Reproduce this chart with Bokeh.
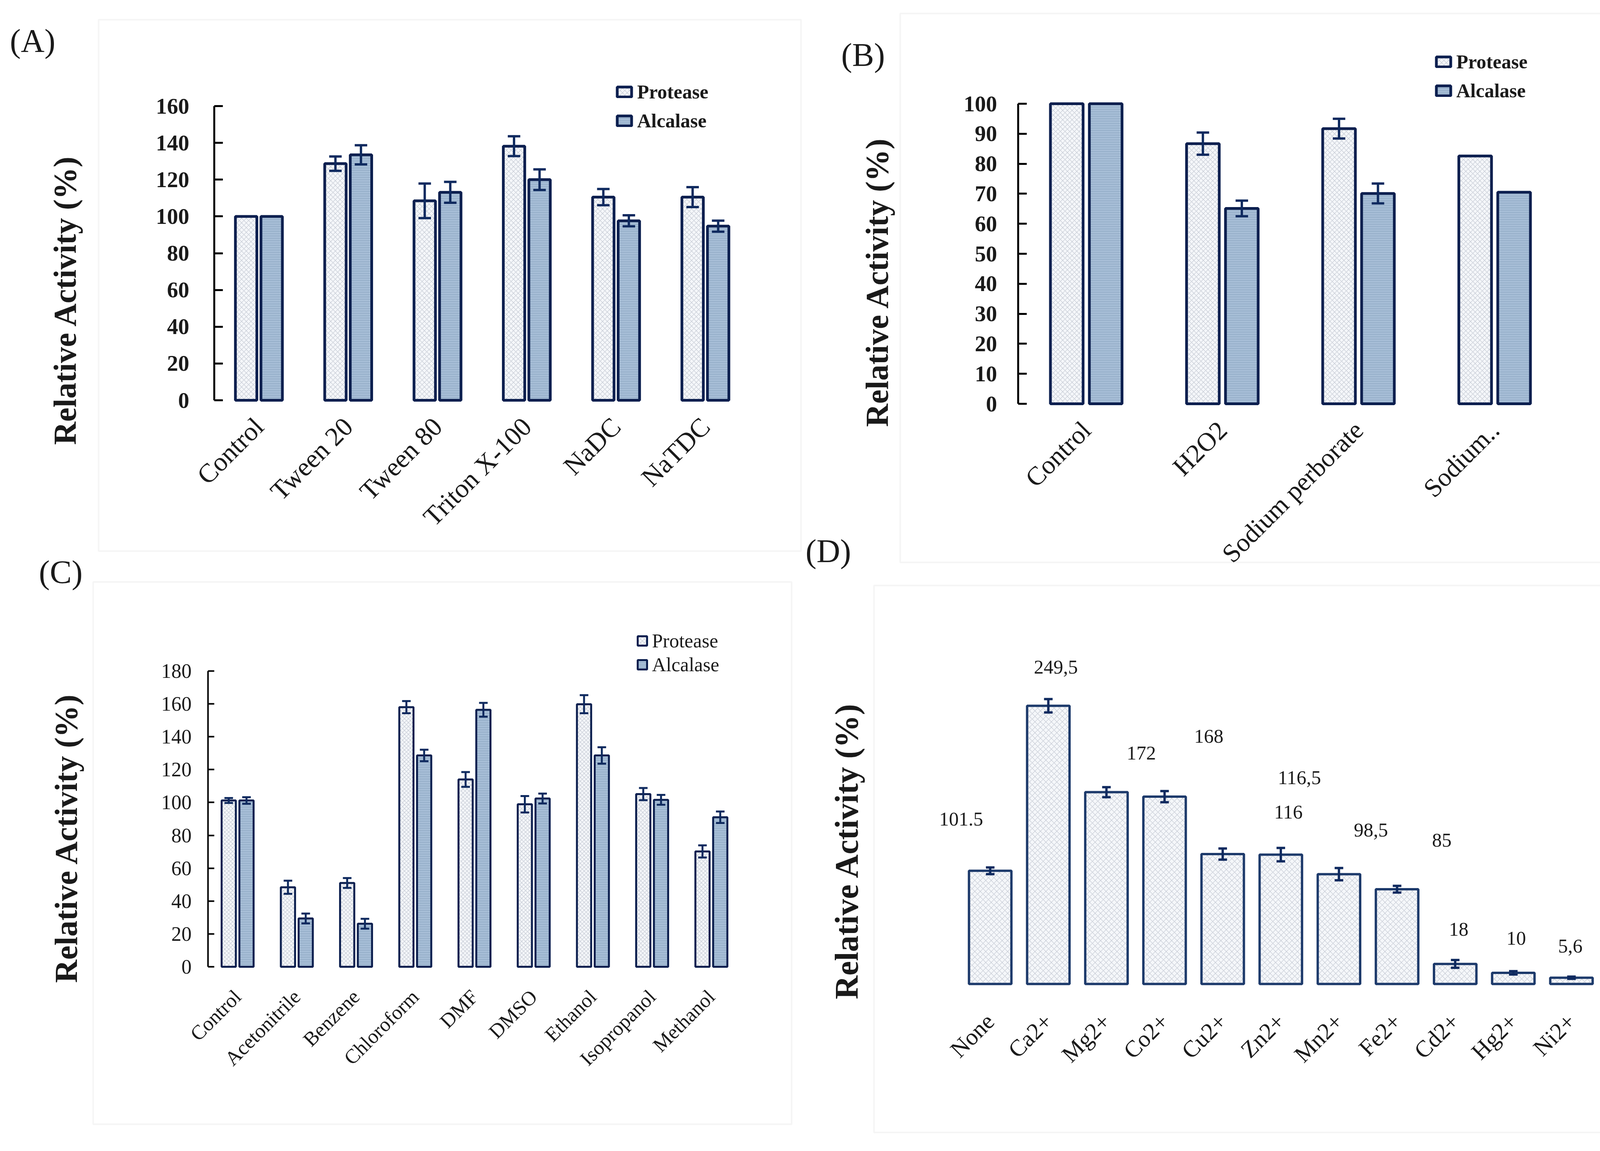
import math
from bokeh.plotting import figure
from bokeh.models import (ColumnDataSource, Range1d, FixedTicker, Label, LabelSet,
                          BoxAnnotation)
from bokeh.layouts import row, column
from bokeh.embed import file_html
from bokeh.resources import INLINE

# ---------------- data ----------------
series_names = ["Protease", "Alcalase"]

a_categories = ["Control", "Tween 20", "Tween 80", "Triton X-100", "NaDC", "NaTDC"]
a_protease = [100, 128.7, 108.5, 138.2, 110.5, 110.5]
a_alcalase = [100, 133.5, 113.1, 120.0, 97.6, 94.7]
a_protease_err = [None, 3.9, 9.4, 5.4, 4.4, 5.4]
a_alcalase_err = [None, 5.2, 5.7, 5.6, 3.0, 3.0]
a_yticks = [0, 20, 40, 60, 80, 100, 120, 140, 160]

b_categories = ["Control", "H2O2", "Sodium perborate", "Sodium.."]
b_protease = [100, 86.7, 91.7, 82.6]
b_alcalase = [100, 65.1, 70.1, 70.5]
b_protease_err = [None, 3.7, 3.3, None]
b_alcalase_err = [None, 2.6, 3.3, None]
b_yticks = [0, 10, 20, 30, 40, 50, 60, 70, 80, 90, 100]

c_categories = ["Control", "Acetonitrile", "Benzene", "Chloroform", "DMF",
                "DMSO", "Ethanol", "Isopropanol", "Methanol"]
c_protease = [101.2, 48.4, 51.0, 158.0, 114.0, 98.9, 159.8, 105.1, 70.2]
c_alcalase = [101.2, 29.4, 26.2, 128.6, 156.4, 102.4, 128.6, 101.6, 91.0]
c_protease_err = [1.5, 4.0, 3.0, 3.7, 4.5, 5.0, 5.5, 3.7, 3.7]
c_alcalase_err = [2.0, 3.0, 3.0, 3.5, 4.2, 3.0, 5.0, 3.0, 3.5]
c_yticks = [0, 20, 40, 60, 80, 100, 120, 140, 160, 180]

d_categories = ["None", "Ca2+", "Mg2+", "Co2+", "Cu2+", "Zn2+", "Mn2+",
                "Fe2+", "Cd2+", "Hg2+", "Ni2+"]
d_values = [101.5, 249.5, 172, 168, 116.5, 116, 98.5, 85, 18, 10, 5.6]
d_err = [3, 6, 4.5, 5, 5, 6, 5.5, 3, 3.5, 1.5, 1]
d_value_text = ["101.5", "249,5", "172", "168", "116,5", "116", "98,5", "85", "18", "10", "5,6"]

# placement of the floating value labels of panel D (layout, not data)
d_label_dx = [-0.5, 0.13, 0.6, 0.76, 1.32, 0.13, 0.55, 0.77, 0.06, 0.05, -0.02]
d_label_y = [148, 284, 207, 222, 185, 154, 138, 129, 49, 41, 34]

# ---------------- style ----------------
SERIF = "Liberation Serif"
NAVY = "#0c1f4f"
ERRC = "#0f2a5f"
PROT_FILL, PROT_HATCH = "#f5f7fa", "#c3c8d2"
ALC_FILL, ALC_HATCH = "#a7bed7", "#8aa3be"
FRAME_GREY = "#dddddd"
TXT = "#1a1a1a"


class Geo:
    """Maps canvas pixels (from top-left) of one figure to its data space."""
    def __init__(self, W, H, axis_px, cat_px, base_px, px_per_unit):
        self.W, self.H = W, H
        self.cw, self.ppu = cat_px, px_per_unit
        self.x0 = -axis_px / cat_px
        self.x1 = (W - axis_px) / cat_px
        self.y1 = base_px / px_per_unit
        self.y0 = -(H - base_px) / px_per_unit

    def x(self, px):
        return self.x0 + px / self.cw

    def y(self, py):
        return self.y1 - py / self.ppu


def make_figure(g):
    p = figure(width=g.W, height=g.H, x_range=Range1d(g.x0, g.x1),
               y_range=Range1d(g.y0, g.y1), output_backend="svg",
               toolbar_location=None, min_border=0)
    p.min_border_left = p.min_border_right = p.min_border_top = p.min_border_bottom = 0
    p.outline_line_color = None
    p.xgrid.visible = False
    p.ygrid.visible = False
    p.background_fill_color = "white"
    p.border_fill_color = "white"
    return p


def add_text(p, g, px, py, text, size, style="normal", angle=0.0):
    p.add_layout(Label(x=g.x(px), y=g.y(py), text=text, text_font=SERIF,
                       text_font_size=f"{size}px", text_font_style=style,
                       text_align="center", text_baseline="middle", angle=angle,
                       text_color=TXT))


def add_frame(p, g, l, t, r, b):
    p.add_layout(BoxAnnotation(left=g.x(l), right=g.x(r), top=g.y(t), bottom=g.y(b),
                               fill_alpha=0, line_color=FRAME_GREY, line_width=4))


def style_xaxis(p, cats, size, standoff):
    xa = p.xaxis[0]
    xa.fixed_location = 0
    centers = [i + 0.5 for i in range(len(cats))]
    xa.ticker = FixedTicker(ticks=centers)
    xa.major_label_overrides = {c: name for c, name in zip(centers, cats)}
    xa.axis_line_color = None
    xa.major_tick_line_color = None
    xa.minor_tick_line_color = None
    xa.major_label_orientation = math.pi / 4
    xa.major_label_text_font = SERIF
    xa.major_label_text_font_size = f"{size}px"
    xa.major_label_text_color = TXT
    xa.major_label_standoff = standoff


def grouped_panel(g, cfg, cats, prot, alc, perr, aerr, yticks):
    p = make_figure(g)
    off = cfg["off"]
    pos = list(range(len(cats)))
    src = ColumnDataSource(dict(xp=[i + 0.5 - off for i in pos],
                                xa=[i + 0.5 + off for i in pos],
                                prot=prot, alc=alc))
    p.vbar(x="xp", top="prot", width=cfg["bw"], source=src,
           fill_color=PROT_FILL, hatch_pattern="diagonal_cross", hatch_color=PROT_HATCH,
           hatch_scale=cfg["hs"], hatch_weight=1.2, line_color=NAVY, line_width=cfg["lw"],
           legend_label=series_names[0])
    p.vbar(x="xa", top="alc", width=cfg["bw"], source=src,
           fill_color=ALC_FILL, hatch_pattern="horizontal_line", hatch_color=ALC_HATCH,
           hatch_scale=6, hatch_weight=1.2, line_color=NAVY, line_width=cfg["lw"],
           legend_label=series_names[1])
    for vals, errs, dx in ((prot, perr, -off), (alc, aerr, off)):
        keep = [i for i, e in enumerate(errs) if e is not None]
        es = ColumnDataSource(dict(x=[i + 0.5 + dx for i in keep],
                                   lo=[vals[i] - errs[i] for i in keep],
                                   hi=[vals[i] + errs[i] for i in keep]))
        p.segment(x0="x", y0="lo", x1="x", y1="hi", source=es,
                  line_color=ERRC, line_width=cfg["ew"])
        for yy in ("lo", "hi"):
            p.scatter(x="x", y=yy, marker="dash", size=cfg["cap"], source=es,
                      line_color=ERRC, line_width=cfg["ew"])

    ya = p.yaxis[0]
    ya.fixed_location = 0
    ya.bounds = (yticks[0], yticks[-1])
    ya.ticker = FixedTicker(ticks=yticks)
    ya.axis_line_color = "black"
    ya.axis_line_width = cfg["aw"]
    ya.major_tick_line_color = "black"
    ya.major_tick_line_width = cfg["aw"]
    ya.major_tick_in = cfg["tick_in"]
    ya.major_tick_out = 0
    ya.minor_tick_line_color = None
    ya.major_label_text_font = SERIF
    ya.major_label_text_font_size = f"{cfg['ytick_size']}px"
    ya.major_label_text_font_style = cfg["ytick_style"]
    ya.major_label_text_color = TXT
    ya.major_label_standoff = cfg["ystand"]

    style_xaxis(p, cats, cfg["xlab_size"], cfg["xstand"])

    lg = p.legend[0]
    lg.location = cfg["leg_loc"]
    lg.label_text_font = SERIF
    lg.label_text_font_size = f"{cfg['leg_size']}px"
    lg.label_text_font_style = cfg["leg_style"]
    lg.label_text_color = TXT
    lg.glyph_width = cfg["leg_gw"]
    lg.glyph_height = cfg["leg_gh"]
    lg.label_standoff = 10
    lg.spacing = cfg["leg_spacing"]
    lg.padding = 0
    lg.margin = 0
    lg.border_line_color = None
    lg.background_fill_alpha = 0
    return p


# ---------------- panel A ----------------
gA = Geo(2054, 1414, 548, 228.6, 1024, 4.706)
cfgA = dict(off=0.143, bw=0.24, lw=7, hs=12, ew=6, cap=32, aw=5, tick_in=22,
            ytick_size=57, ytick_style="bold", ystand=64, xlab_size=68, xstand=50,
            leg_loc=(1575, 1076), leg_size=50, leg_style="bold", leg_gw=46,
            leg_gh=32, leg_spacing=16)
pA = grouped_panel(gA, cfgA, a_categories, a_protease, a_alcalase,
                   a_protease_err, a_alcalase_err, a_yticks)
add_frame(pA, gA, 252, 50, 2050, 1410)
add_text(pA, gA, 83, 104, "(A)", 84)
add_text(pA, gA, 166, 767, "Relative Activity (%)", 82, "bold", math.pi / 2)

# ---------------- panel B ----------------
gB = Geo(2121, 1462, 552, 348.5, 1033, 7.68)
cfgB = dict(off=0.143, bw=0.24, lw=7, hs=12, ew=6, cap=32, aw=5, tick_in=22,
            ytick_size=57, ytick_style="bold", ystand=54, xlab_size=67, xstand=50,
            leg_loc=(1618, 1201), leg_size=50, leg_style="bold", leg_gw=46,
            leg_gh=32, leg_spacing=16)
pB = grouped_panel(gB, cfgB, b_categories, b_protease, b_alcalase,
                   b_protease_err, b_alcalase_err, b_yticks)
add_frame(pB, gB, 250, 34, 2098, 1439)
add_text(pB, gB, 155, 140, "(B)", 84)
add_text(pB, gB, 66, 1410, "(D)", 84)
add_text(pB, gB, 191, 721, "Relative Activity (%)", 82, "bold", math.pi / 2)

# ---------------- panel C ----------------
gC = Geo(2054, 1512, 532, 151.6, 1060, 4.206)
cfgC = dict(off=0.15, bw=0.24, lw=5, hs=10, ew=5, cap=22, aw=4, tick_in=16,
            ytick_size=52, ytick_style="normal", ystand=42, xlab_size=52, xstand=62,
            leg_loc=(1629, 1196), leg_size=50, leg_style="normal", leg_gw=30,
            leg_gh=30, leg_spacing=3)
pC = grouped_panel(gC, cfgC, c_categories, c_protease, c_alcalase,
                   c_protease_err, c_alcalase_err, c_yticks)
add_frame(pC, gC, 238, 75, 2026, 1463)
add_text(pC, gC, 155, 50, "(C)", 84)
add_text(pC, gC, 169, 730, "Relative Activity (%)", 82, "bold", math.pi / 2)

# ---------------- panel D ----------------
gD = Geo(2121, 1464, 406, 148.8, 1056, 2.854)
pD = make_figure(gD)
srcD = ColumnDataSource(dict(x=[i + 0.5 for i in range(len(d_categories))],
                             val=d_values,
                             lo=[v - e for v, e in zip(d_values, d_err)],
                             hi=[v + e for v, e in zip(d_values, d_err)]))
pD.vbar(x="x", top="val", width=0.73, source=srcD, fill_color=PROT_FILL,
        hatch_pattern="diagonal_cross", hatch_color=PROT_HATCH, hatch_scale=14,
        hatch_weight=1.2, line_color="#1d3a6b", line_width=6)
pD.segment(x0="x", y0="lo", x1="x", y1="hi", source=srcD,
           line_color=ERRC, line_width=6)
for yy in ("lo", "hi"):
    pD.scatter(x="x", y=yy, marker="dash", size=22, source=srcD,
               line_color=ERRC, line_width=6)
lblD = ColumnDataSource(dict(x=[i + 0.5 + dx for i, dx in enumerate(d_label_dx)],
                             y=d_label_y, text=d_value_text))
pD.add_layout(LabelSet(x="x", y="y", text="text", source=lblD, text_font=SERIF,
                       text_font_size="50px", text_align="center",
                       text_baseline="middle", text_color=TXT))
pD.yaxis.visible = False
style_xaxis(pD, d_categories, 60, 80)
add_frame(pD, gD, 183, 36, 2090, 1436)
add_text(pD, gD, 113, 715, "Relative Activity (%)", 84, "bold", math.pi / 2)

layout = row(column(pA, pC), column(pB, pD))
open("out.html", "w").write(file_html(layout, INLINE))
